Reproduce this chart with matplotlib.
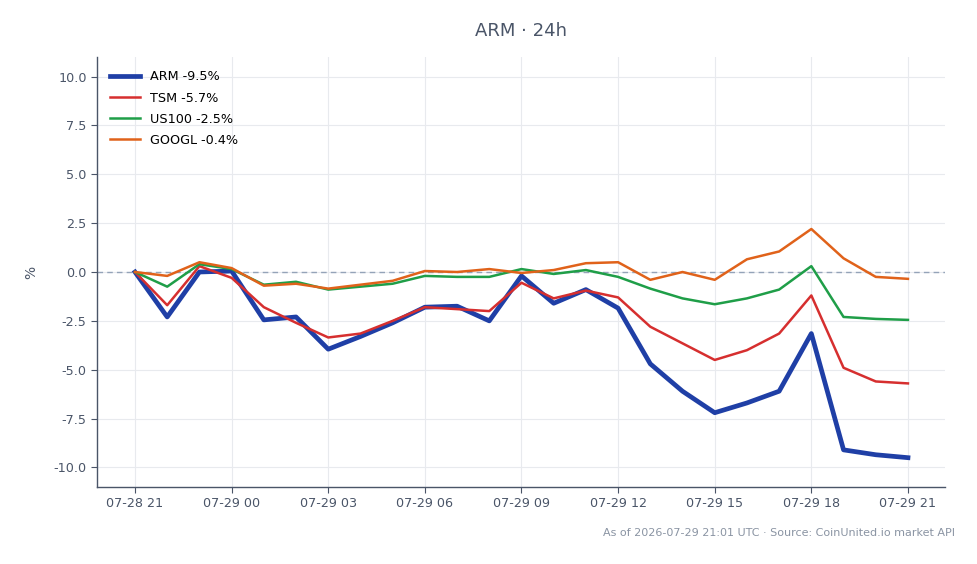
import matplotlib
matplotlib.use("Agg")
import matplotlib.pyplot as plt
import matplotlib.dates as mdates
from datetime import datetime, timedelta

start = datetime(2026, 7, 28, 21)
times = [start + timedelta(hours=h) for h in range(25)]

arm = [0.0, -2.3, 0.0, 0.05, -2.45, -2.3, -3.95, -3.3, -2.6, -1.8, -1.75, -2.5, -0.2,
       -1.6, -0.9, -1.85, -4.7, -6.1, -7.2, -6.7, -6.1, -3.15, -9.1, -9.35, -9.5]
tsm = [0.0, -1.7, 0.3, -0.3, -1.8, -2.6, -3.35, -3.15, -2.5, -1.8, -1.9, -2.0, -0.55,
       -1.35, -0.95, -1.3, -2.8, -3.65, -4.5, -4.0, -3.15, -1.2, -4.9, -5.6, -5.7]
us100 = [0.0, -0.75, 0.4, 0.15, -0.65, -0.5, -0.9, -0.75, -0.6, -0.2, -0.25, -0.25, 0.15,
         -0.1, 0.1, -0.25, -0.85, -1.35, -1.65, -1.35, -0.9, 0.3, -2.3, -2.4, -2.45]
googl = [0.0, -0.2, 0.5, 0.2, -0.7, -0.6, -0.85, -0.65, -0.45, 0.05, 0.0, 0.15, -0.05,
         0.1, 0.45, 0.5, -0.4, 0.0, -0.4, 0.65, 1.05, 2.2, 0.7, -0.25, -0.35]

series = [
    ("ARM -9.5%", arm, "#1f3fa6", 3.4),
    ("TSM -5.7%", tsm, "#d62f2f", 1.8),
    ("US100 -2.5%", us100, "#1f9e48", 1.8),
    ("GOOGL -0.4%", googl, "#e0621a", 1.8),
]

fig = plt.figure(figsize=(9.78, 5.64), dpi=100)
ax = fig.add_axes([97/978, 1 - 487/564, (945-97)/978, (487-57)/564])

text_c = "#4a5568"
for label, vals, col, lw in series:
    ax.plot(times, vals, color=col, lw=lw, label=label, zorder=3)

ax.axhline(0, color="#94a3b8", lw=1.0, ls=(0, (4, 3)), zorder=2)

ax.set_ylim(-11.0, 11.0)
ax.set_xlim(start - timedelta(hours=1.18), start + timedelta(hours=25.15))
ax.set_yticks([-10, -7.5, -5, -2.5, 0, 2.5, 5, 7.5, 10])
ax.yaxis.set_major_formatter(matplotlib.ticker.FormatStrFormatter("%.1f"))
ax.xaxis.set_major_locator(mdates.HourLocator(byhour=range(0, 24, 3)))
ax.xaxis.set_major_formatter(mdates.DateFormatter("%m-%d %H"))

ax.grid(True, color="#e8eaee", lw=0.8, zorder=0)
for s in ["top", "right"]:
    ax.spines[s].set_visible(False)
for s in ["left", "bottom"]:
    ax.spines[s].set_color(text_c)
    ax.spines[s].set_linewidth(1.0)
ax.tick_params(colors=text_c, labelsize=9.2, length=4)
ax.set_ylabel("%", color=text_c, fontsize=10, labelpad=11)

leg = ax.legend(loc="upper left", frameon=False, fontsize=9.2, handlelength=2.3,
                borderaxespad=0.65, labelspacing=0.64)

fig.suptitle("ARM · 24h", x=0.533, y=1 - 31/564, va="center", color=text_c, fontsize=13)
fig.text(955/978, 1 - 533/564, "As of 2026-07-29 21:01 UTC · Source: CoinUnited.io market API",
         ha="right", va="center", color="#8a94a3", fontsize=8)

fig.savefig("out.png", dpi=100)
